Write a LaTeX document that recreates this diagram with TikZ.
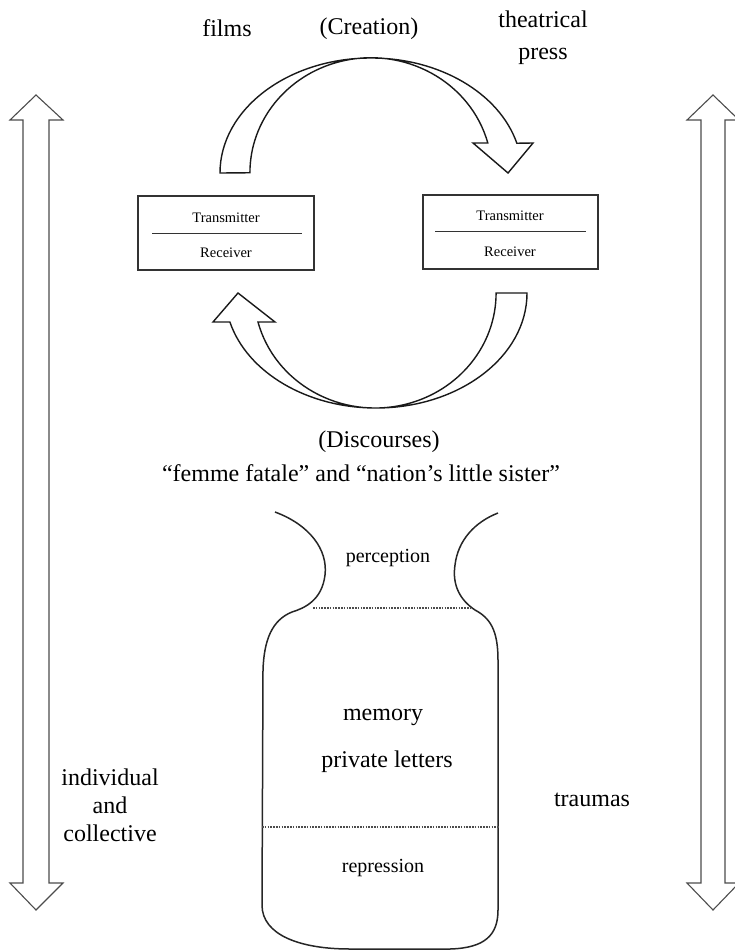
\documentclass[tikz,border=0pt]{standalone}
\usepackage{fontspec}
\setmainfont{Liberation Serif}
\begin{document}
\begin{tikzpicture}[x=1pt,y=-1pt,
  big/.style={font=\fontsize{24}{28}\selectfont, inner sep=0pt, anchor=base},
  mid/.style={font=\fontsize{20}{24}\selectfont, inner sep=0pt, anchor=base},
  small/.style={font=\fontsize{14.5}{17}\selectfont, inner sep=0pt, anchor=base},
  outline/.style={draw=black!90, line width=1.4pt, line join=miter},
  sidearrow/.style={draw=black!70, line width=1.1pt, line join=miter},
  boxnode/.style={draw=black!80, line width=1.1pt, minimum width=176pt, minimum height=74pt, inner sep=0pt},
  divider/.style={draw=black!80, line width=1pt},
  dots/.style={dash pattern=on 1.6pt off 1.2pt, line width=1.4pt, draw=black!70},
  jar/.style={draw=black!85, line width=1.5pt},
]
\useasboundingbox (0,0) rectangle (735,952);

% side double arrows
\draw[sidearrow] (36,95) -- (63,120) -- (49,120) -- (49,883) -- (63,883) -- (36,910)
  -- (10,883) -- (23,883) -- (23,120) -- (10,120) -- cycle;
\draw[sidearrow] (713,95) -- (739,120) -- (725,120) -- (725,883) -- (739,883) -- (713,910)
  -- (687,883) -- (701,883) -- (701,120) -- (687,120) -- cycle;

% top labels
\node[big] (films) at (227,37) {films};
\node[big] (creation) at (369,35) {(Creation)};
\node[big] (theatrical) at (543,28) {theatrical};
\node[big] (press) at (543,60) {press};

% top curved arrow
\draw[outline] (220,173) arc[start angle=180, end angle=345, x radius=151, y radius=115]
  -- (533,143) -- (508,173) -- (473,143) -- (487.8,143)
  arc[start angle=345, end angle=180, x radius=121, y radius=115] -- cycle;

% boxes
\node[boxnode] (lbox) at (226,233) {};
\draw[divider] (152,233) -- (302,233);
\node[small] (ltrans) at (226,222) {Transmitter};
\node[small] (lrec) at (226,257) {Receiver};

\node[boxnode, minimum width=175pt] (rbox) at (510.5,232) {};
\draw[divider] (435,231) -- (586,231);
\node[small] (rtrans) at (510,220) {Transmitter};
\node[small] (rrec) at (510,256) {Receiver};

% bottom curved arrow
\draw[outline] (527,293) arc[start angle=0, end angle=165.4, x radius=151, y radius=115]
  -- (213,322) -- (238,293) -- (275,322) -- (258,322)
  arc[start angle=165.4, end angle=0, x radius=121, y radius=115] -- cycle;

\node[big] (discourses) at (379,447) {(Discourses)};
\node[big] (femme) at (361,481) {“femme fatale” and “nation’s little sister”};

% jar
\draw[jar] (275,512) .. controls (310,525) and (328,550) .. (325,575)
  .. controls (322,600) and (305,608) .. (292,612)
  .. controls (272,620) and (264,640) .. (263,670)
  -- (262,905)
  .. controls (262,935) and (300,949) .. (350,949)
  -- (450,949)
  .. controls (485,948) and (498,935) .. (498,910)
  -- (498,660)
  .. controls (498,630) and (490,618) .. (475,610)
  .. controls (460,600) and (452,585) .. (455,565)
  .. controls (458,540) and (475,522) .. (498,513);
\draw[dots] (313,608) -- (470,608);
\draw[dots] (262,827) -- (499,827);

\node[mid] (perception) at (388,562) {perception};
\node[big] (memory) at (383,720) {memory};
\node[big] (letters) at (387,767) {private letters};
\node[mid] (repression) at (383,872) {repression};

% side labels
\node[big] (individual) at (110,785) {individual};
\node[big] (and) at (110,813) {and};
\node[big] (collective) at (110,841) {collective};
\node[big] (traumas) at (592,806) {traumas};
\end{tikzpicture}
\end{document}
